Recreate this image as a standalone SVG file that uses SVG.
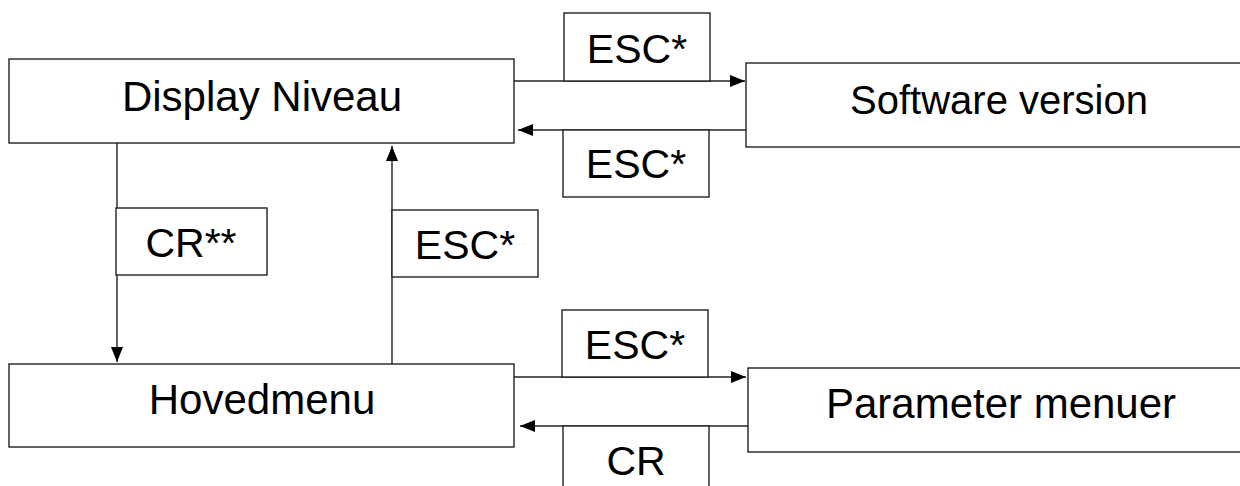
<svg xmlns="http://www.w3.org/2000/svg" width="1240" height="486" viewBox="0 0 1240 486">
<defs>
<marker id="ah" markerWidth="16" markerHeight="12" refX="15" refY="6" orient="auto" markerUnits="userSpaceOnUse">
<path d="M0,0 L15,6 L0,12 Z" fill="#000"/>
</marker>
<style>
.box{fill:#fff;stroke:#222;stroke-width:1.4}
.lbl{fill:#fff;stroke:#222;stroke-width:1.4}
.t{font-family:"Liberation Sans",Arial,sans-serif;font-size:42px;fill:#000;text-anchor:middle}
.tl{font-family:"Liberation Sans",Arial,sans-serif;font-size:41px;fill:#000;text-anchor:middle}
.c{stroke:#222;stroke-width:1.4;fill:none}
</style>
</defs>
<rect width="1240" height="486" fill="#fff"/>
<g id="connectors">
<line class="c" x1="514" y1="81" x2="745" y2="81" marker-end="url(#ah)"/>
<line class="c" x1="746" y1="130" x2="518" y2="130" marker-end="url(#ah)"/>
<line class="c" x1="117" y1="143" x2="117" y2="362" marker-end="url(#ah)"/>
<line class="c" x1="392" y1="364" x2="392" y2="146" marker-end="url(#ah)"/>
<line class="c" x1="514" y1="377" x2="746" y2="377" marker-end="url(#ah)"/>
<line class="c" x1="748" y1="426" x2="520" y2="426" marker-end="url(#ah)"/>
</g>
<g id="label-esc-top">
<rect class="lbl" x="564" y="13" width="146" height="68"/>
<text class="tl" x="637" y="63">ESC*</text>
</g>
<g id="label-esc-back">
<rect class="lbl" x="563" y="130" width="146" height="67"/>
<text class="tl" x="636" y="178">ESC*</text>
</g>
<g id="label-cr2">
<rect class="lbl" x="116" y="208" width="151" height="67"/>
<text class="tl" x="191" y="257">CR**</text>
</g>
<g id="label-esc-up">
<rect class="lbl" x="392" y="210" width="146" height="67"/>
<text class="tl" x="465" y="259">ESC*</text>
</g>
<g id="label-esc-bottom">
<rect class="lbl" x="562" y="310" width="146" height="67"/>
<text class="tl" x="635" y="359">ESC*</text>
</g>
<g id="label-cr">
<rect class="lbl" x="563" y="426" width="146" height="80"/>
<text class="tl" x="636" y="475">CR</text>
</g>
<g id="display-niveau">
<rect class="box" x="9" y="59" width="505" height="84"/>
<text class="t" x="262" y="111">Display Niveau</text>
</g>
<g id="software-version">
<rect class="box" x="746" y="63" width="510" height="84"/>
<text class="t" x="999" y="114" font-size="40" style="font-size:40px">Software version</text>
</g>
<g id="hovedmenu">
<rect class="box" x="9" y="364" width="505" height="83"/>
<text class="t" x="262" y="414">Hovedmenu</text>
</g>
<g id="parameter-menuer">
<rect class="box" x="748" y="368" width="510" height="84"/>
<text class="t" x="1001" y="418">Parameter menuer</text>
</g>
</svg>
